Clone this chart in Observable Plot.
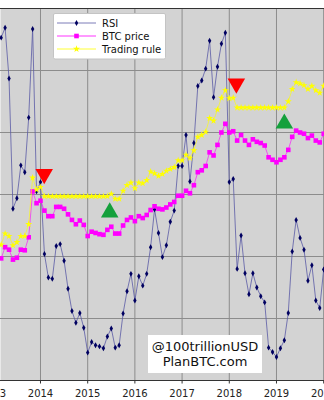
<!DOCTYPE html>
<html><head><meta charset="utf-8">
<script src="https://cdn.jsdelivr.net/npm/d3@7"></script>
<script src="https://cdn.jsdelivr.net/npm/@observablehq/plot@0.6"></script>
<style>
body{margin:0;background:#fff;overflow:hidden;}
#wrap{position:relative;width:324px;height:400px;font-family:"DejaVu Sans",sans-serif;}
#legend{position:absolute;left:53px;top:13px;}
#mark{position:absolute;left:148px;top:335px;width:114px;height:38px;background:#fff;text-align:center;font-size:13px;line-height:14.5px;color:#111;box-sizing:border-box;padding-top:5px;}
</style></head><body><div id="wrap"><div id="chart"></div><div id="legend"></div><div id="mark"></div></div>
<script>
// first value = month index after Jan 2013
const startMonth = 2;
const rsi = [5.53,5.69,4.87,2.77,2.94,3.47,3.36,4.24,5.67,3.05,3.20,
 2.04,1.66,1.64,2.17,2.20,1.93,1.48,1.12,0.93,1.09,0.85,0.45,
 0.62,0.57,0.55,0.52,0.71,0.84,0.53,0.57,1.08,1.44,1.72,1.29,
 1.68,1.53,1.72,2.15,2.76,2.38,1.99,2.18,2.56,2.74,3.46,3.46,
 3.96,3.21,3.83,4.75,4.84,5.03,5.48,4.57,5.06,5.43,5.61,3.20,
 3.25,1.80,2.34,1.73,1.39,1.73,1.50,1.36,1.26,0.53,0.46,0.38,
 0.52,0.65,1.09,2.08,2.59,2.30,2.11,1.61,1.86,1.29,1.17,1.79];
const btcPrice = [1.97,2.15,2.11,1.95,1.98,2.11,2.10,2.31,3.05,2.86,2.90,
 2.74,2.65,2.65,2.80,2.80,2.77,2.68,2.59,2.52,2.58,2.51,2.33,
 2.40,2.38,2.36,2.35,2.43,2.48,2.37,2.37,2.50,2.59,2.63,2.57,
 2.65,2.62,2.67,2.75,2.81,2.77,2.76,2.79,2.84,2.88,2.98,2.98,
 3.06,3.02,3.15,3.36,3.39,3.46,3.68,3.63,3.80,4.00,4.14,4.00,
 4.02,3.87,3.96,3.87,3.80,3.89,3.85,3.83,3.79,3.60,3.56,3.52,
 3.56,3.60,3.72,3.93,4.03,4.00,3.98,3.91,3.95,3.87,3.84,3.98];
const tradingRule = [2.19,2.37,2.33,2.18,2.23,2.33,2.33,2.52,3.27,3.08,3.12,
 2.97,2.97,2.97,2.97,2.97,2.97,2.97,2.97,2.97,2.97,2.97,2.97,
 2.97,2.97,2.97,2.97,2.97,3.01,2.93,2.93,3.06,3.15,3.19,3.10,
 3.19,3.18,3.23,3.37,3.34,3.30,3.33,3.38,3.41,3.44,3.55,3.55,
 3.64,3.59,3.71,3.93,3.96,4.01,4.23,4.19,4.37,4.56,4.68,4.55,
 4.56,4.40,4.40,4.40,4.40,4.40,4.40,4.40,4.40,4.40,4.40,4.40,
 4.40,4.40,4.50,4.70,4.81,4.79,4.76,4.70,4.75,4.68,4.64,4.75];
const yearTicks = [2013,2014,2015,2016,2017,2018,2019,2020];
const gridLevels = [1,2,3,4,5];
const sellMonths = [12.94, 61.8];
const sellLevels = [3.33, 4.79];
const buyMonths = [29.6, 74.0];
const buyLevels = [2.71, 4.145];
const seriesNames = ["RSI","BTC price","Trading rule"];
const watermark = ["@100trillionUSD","PlanBTC.com"];

const colors = {rsiLine:"#5a5aa6", rsiDot:"#000060", price:"#ff00ff", rule:"#ffff00", sell:"#ff0000", buy:"#14a03c", bg:"#d3d3d3", grid:"#8c8c8c", spine:"#333"};

const table = rsi.map((v,i)=>({t: 2013 + (startMonth+i)/12, rsi: v, price: btcPrice[i], rule: tradingRule[i]}));
const sells = sellMonths.map((m,i)=>({t: 2013 + m/12, v: sellLevels[i]}));
const buys = buyMonths.map((m,i)=>({t: 2013 + m/12, v: buyLevels[i]}));

const triangleDown = {draw(context, size){
  const y = Math.sqrt(size/(Math.sqrt(3)*3));
  context.moveTo(0, 2*y);
  context.lineTo(-Math.sqrt(3)*y, -y);
  context.lineTo(Math.sqrt(3)*y, -y);
  context.closePath();
}};

const plot = Plot.plot({
  width: 324, height: 400,
  marginTop: 8, marginBottom: 20, marginLeft: 0, marginRight: 0,
  style: {background: "white", fontFamily: "DejaVu Sans", fontSize: "10px", overflow: "hidden"},
  x: {domain: [2013 + 1.83/12, 2013 + 84.21/12], axis: null, label: null},
  y: {domain: [0, 6], axis: null, label: null},
  marks: [
    Plot.frame({fill: colors.bg, stroke: null}),
    Plot.gridY(gridLevels, {stroke: colors.grid, strokeOpacity: 1, strokeWidth: 1}),
    Plot.gridX(yearTicks, {stroke: colors.grid, strokeOpacity: 1, strokeWidth: 1}),
    Plot.line(table, {x: "t", y: "rsi", stroke: colors.rsiLine, strokeWidth: 0.8}),
    Plot.dot(table, {x: "t", y: "rsi", symbol: "diamond", r: 1.8, fill: colors.rsiDot}),
    Plot.line(table, {x: "t", y: "price", stroke: colors.price, strokeWidth: 0.6}),
    Plot.dot(table, {x: "t", y: "price", symbol: "square", r: 2.6, fill: colors.price}),
    Plot.line(table, {x: "t", y: "rule", stroke: colors.rule, strokeWidth: 0.6}),
    Plot.dot(table, {x: "t", y: "rule", symbol: "star", r: 2.2, fill: colors.rule}),
    Plot.dot(sells, {x: "t", y: "v", symbol: triangleDown, r: 6.5, fill: colors.sell}),
    Plot.dot(buys, {x: "t", y: "v", symbol: "triangle", r: 6.5, fill: colors.buy}),
    Plot.ruleY([0, 6], {stroke: colors.spine, strokeWidth: 1}),
    Plot.axisX(yearTicks, {tickSize: 3.5, tickPadding: 6, tickFormat: d => String(d), label: null, stroke: colors.spine, fill: "#222", fontSize: 10})
  ]
});
document.getElementById("chart").appendChild(plot);

// legend
const lg = d3.select("#legend").append("svg").attr("width", 114).attr("height", 48).style("overflow","visible");
lg.append("rect").attr("x",0.5).attr("y",0.5).attr("width",112).attr("height",45.5).attr("fill","#fff").attr("stroke","#c4c4c4").attr("rx",1.5);
const legendStyles = [
  {line: colors.rsiLine, fill: colors.rsiDot, type: d3.symbolDiamond, r: 1.8},
  {line: colors.price, fill: colors.price, type: d3.symbolSquare, r: 2.6},
  {line: colors.rule, fill: colors.rule, type: d3.symbolStar, r: 2.2}
];
seriesNames.forEach((name, i) => {
  const s = legendStyles[i];
  const cy = 10 + 13*i;
  lg.append("line").attr("x1",4).attr("x2",43).attr("y1",cy).attr("y2",cy).attr("stroke",s.line).attr("stroke-width",0.8);
  lg.append("path").attr("d", d3.symbol().type(s.type).size(Math.PI*s.r*s.r)()).attr("transform",`translate(23.5,${cy})`).attr("fill",s.fill);
  lg.append("text").attr("x",49).attr("y",cy+3.6).attr("font-size",10).attr("font-family","DejaVu Sans").attr("fill","#111").text(name);
});

// watermark
document.getElementById("mark").innerHTML = watermark.map(s => `<div>${s}</div>`).join("");
</script>
</body></html>
